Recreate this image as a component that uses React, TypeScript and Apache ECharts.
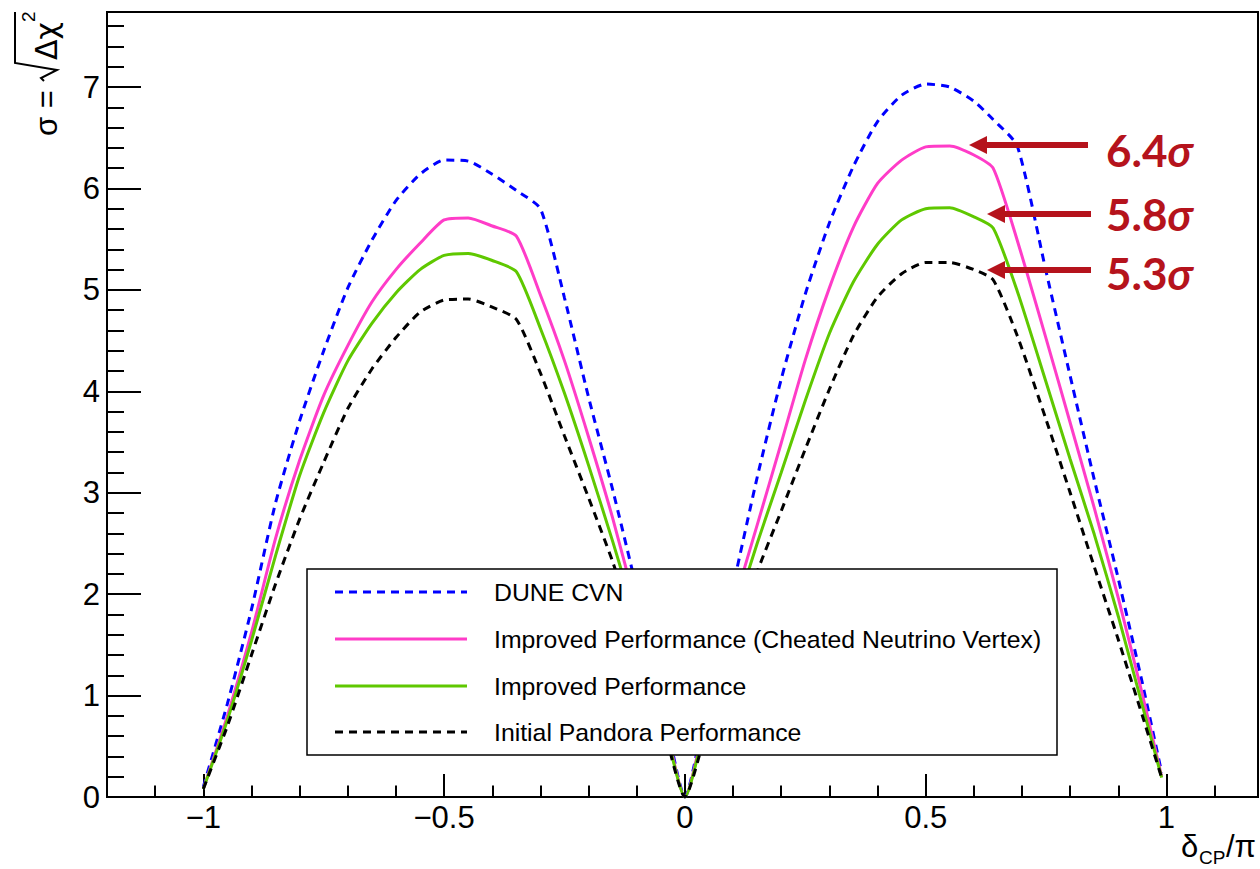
import React, { useEffect, useRef } from "react";
import * as echarts from "echarts";

// delta_CP / pi sample positions
const deltaCP = [
  -1, -0.95, -0.9, -0.85, -0.8, -0.75, -0.7, -0.65, -0.6, -0.55, -0.5, -0.45, -0.4, -0.35, -0.3, -0.25, -0.2, -0.15, -0.1, -0.05,
  0, 0.05, 0.1, 0.15, 0.2, 0.25, 0.3, 0.35, 0.4, 0.45, 0.5, 0.55, 0.6, 0.64, 0.69, 0.75, 0.8, 0.85, 0.9, 0.95, 0.99,
];

const duneCVN = [
  0.1, 0.92, 1.85, 2.9, 3.71, 4.4, 5.02, 5.49, 5.88, 6.14, 6.28, 6.27, 6.14, 5.98, 5.8, 4.92, 3.94, 3.03, 2.05, 1.02,
  0, 1.05, 2.08, 3.15, 4.12, 4.96, 5.66, 6.22, 6.66, 6.92, 7.03, 7.0, 6.86, 6.68, 6.42, 5.18, 4.15, 3.13, 2.15, 1.12, 0.24,
];

const improvedCheated = [
  0.08, 0.8, 1.62, 2.55, 3.32, 3.96, 4.45, 4.88, 5.2, 5.46, 5.69, 5.71, 5.63, 5.53, 4.95, 4.3, 3.55, 2.75, 1.85, 0.92,
  0, 0.93, 1.87, 2.68, 3.49, 4.31, 5.02, 5.62, 6.05, 6.28, 6.41, 6.42, 6.33, 6.2, 5.49, 4.52, 3.69, 2.85, 1.96, 1.01, 0.2,
];

const improved = [
  0.08, 0.76, 1.54, 2.38, 3.17, 3.79, 4.3, 4.67, 4.97, 5.2, 5.34, 5.36, 5.29, 5.18, 4.62, 3.98, 3.27, 2.52, 1.73, 0.87,
  0, 0.87, 1.73, 2.5, 3.2, 3.91, 4.57, 5.08, 5.45, 5.69, 5.8, 5.81, 5.72, 5.61, 4.99, 4.09, 3.33, 2.59, 1.78, 0.9, 0.19,
];

const initialPandora = [
  0.08, 0.7, 1.4, 2.1, 2.74, 3.3, 3.83, 4.22, 4.53, 4.78, 4.9, 4.91, 4.83, 4.71, 4.18, 3.56, 2.95, 2.32, 1.58, 0.8,
  0, 0.76, 1.52, 2.22, 2.82, 3.43, 4.02, 4.55, 4.93, 5.16, 5.27, 5.27, 5.2, 5.1, 4.55, 3.72, 3.0, 2.27, 1.55, 0.8, 0.19,
];

const seriesNames = [
  "DUNE CVN",
  "Improved Performance (Cheated Neutrino Vertex)",
  "Improved Performance",
  "Initial Pandora Performance",
];
const seriesColors = ["#0000ff", "#ff3cc8", "#5fc800", "#000000"];
const seriesDashed = [true, false, false, true];

const xMajorTicks = [-1, -0.5, 0, 0.5, 1];
const xTickLabels = ["\u22121", "\u22120.5", "0", "0.5", "1"];
const xMinorTicks = [-1.1, -0.9, -0.8, -0.7, -0.6, -0.4, -0.3, -0.2, -0.1, 0.1, 0.2, 0.3, 0.4, 0.6, 0.7, 0.8, 0.9, 1.1];

const yMajorTicks = [0, 1, 2, 3, 4, 5, 6, 7];
const yTickLabels = ["0", "1", "2", "3", "4", "5", "6", "7"];

const annotationLabels = ["6.4", "5.8", "5.3"];

const X_MIN = -1.2;
const X_MAX = 1.19;
const Y_MIN = 0;
const Y_MAX = 7.74;

export default function App() {
  const ref = useRef<HTMLDivElement>(null);

  useEffect(() => {
    if (!ref.current) return;
    const chart = echarts.init(ref.current, undefined, { renderer: "svg" });

    const yMinorTicks: number[] = [];
    for (let i = 1; i < 39; i++) {
      if (i % 5 !== 0) yMinorTicks.push(Math.round(i * 0.2 * 100) / 100);
    }

    const ys = [duneCVN, improvedCheated, improved, initialPandora];
    const series = ys.map((arr, k) => ({
      type: "line",
      name: seriesNames[k],
      data: deltaCP.map((x, i) => [x, arr[i]]),
      symbol: "none",
      silent: true,
      smooth: 0.2,
      xAxisIndex: 0,
      yAxisIndex: 0,
      z: 2 + k,
      lineStyle: {
        color: seriesColors[k],
        width: 3,
        type: seriesDashed[k] ? [8, 6] : "solid",
        cap: "butt",
      },
    }));

    const labelFont = "Liberation Sans, Arial, Helvetica, sans-serif";
    const red = "#b5131c";

    // legend
    const legX = 307, legY = 569, legW = 750, legH = 186;
    const rowY = [592, 639, 686, 732];
    const legendEls: any[] = [
      {
        type: "rect",
        z: 100,
        shape: { x: legX, y: legY, width: legW, height: legH },
        style: { fill: "#ffffff", stroke: "#000", lineWidth: 1.5 },
      },
    ];
    seriesNames.forEach((nm, k) => {
      legendEls.push({
        type: "line",
        z: 101,
        shape: { x1: 335, y1: rowY[k], x2: 467, y2: rowY[k] },
        style: {
          stroke: seriesColors[k],
          lineWidth: 3,
          lineDash: seriesDashed[k] ? [8, 6] : null,
        },
      });
      legendEls.push({
        type: "text",
        z: 101,
        x: 494,
        y: rowY[k],
        style: {
          text: nm,
          font: `24.8px ${labelFont}`,
          fill: "#000",
          textAlign: "left",
          textVerticalAlign: "middle",
        },
      });
    });

    // annotations
    const arrows = [
      { tip: 969, tail: 1088, y: 145, ty: 150 },
      { tip: 987, tail: 1091, y: 214, ty: 214 },
      { tip: 987, tail: 1091, y: 270, ty: 273 },
    ];
    const annEls: any[] = [];
    arrows.forEach((a, k) => {
      annEls.push({
        type: "line",
        z: 110,
        shape: { x1: a.tip + 14, y1: a.y, x2: a.tail, y2: a.y },
        style: { stroke: red, lineWidth: 6 },
      });
      annEls.push({
        type: "polygon",
        z: 110,
        shape: { points: [[a.tip, a.y], [a.tip + 18, a.y - 9], [a.tip + 18, a.y + 9]] },
        style: { fill: red },
      });
      annEls.push({
        type: "text",
        z: 110,
        x: 1106,
        y: a.ty,
        style: {
          text: `{n|${annotationLabels[k]}}{s|\u03c3}`,
          rich: {
            n: { font: "bold 44px Lato, sans-serif", fill: red },
            s: { font: "italic bold 44px Lato, sans-serif", fill: red },
          },
          textAlign: "left",
          textVerticalAlign: "middle",
        },
      });
    });

    // y axis title (rotated)
    const yTitle = {
      type: "group",
      x: 0,
      y: 136,
      rotation: Math.PI / 2,
      z: 120,
      children: [
        {
          type: "text",
          x: 0,
          y: 46,
          style: { text: "\u03c3 =", font: `31px ${labelFont}`, fill: "#000", textAlign: "left", textVerticalAlign: "middle" },
        },
        {
          type: "polyline",
          shape: { points: [[55, 44], [58, 41], [66, 57], [73, 15], [124, 15]] },
          style: { stroke: "#000", lineWidth: 2, fill: null },
        },
        {
          type: "text",
          x: 76,
          y: 46,
          style: { text: "\u0394\u03c7", font: `30px DejaVu Sans, sans-serif`, fill: "#000", textAlign: "left", textVerticalAlign: "middle" },
        },
        {
          type: "text",
          x: 114,
          y: 28,
          style: { text: "2", font: `19px ${labelFont}`, fill: "#000", textAlign: "left", textVerticalAlign: "middle" },
        },
      ],
    };

    // x axis title
    const xTitle = [
      {
        type: "text",
        z: 120,
        x: 1181,
        y: 846,
        style: { text: "\u03b4", font: `31px ${labelFont}`, fill: "#000", textAlign: "left", textVerticalAlign: "middle" },
      },
      {
        type: "text",
        z: 120,
        x: 1199,
        y: 857,
        style: { text: "CP", font: `19px ${labelFont}`, fill: "#000", textAlign: "left", textVerticalAlign: "middle" },
      },
      {
        type: "text",
        z: 120,
        x: 1226,
        y: 846,
        style: { text: "/\u03c0", font: `31px ${labelFont}`, fill: "#000", textAlign: "left", textVerticalAlign: "middle" },
      },
    ];

    const option: any = {
      animation: false,
      backgroundColor: "#ffffff",
      grid: {
        left: 107,
        right: 2,
        top: 12,
        bottom: 72,
        show: true,
        borderColor: "#000",
        borderWidth: 2,
        backgroundColor: "transparent",
      },
      xAxis: [
        {
          type: "value",
          min: X_MIN,
          max: X_MAX,
          position: "bottom",
          axisLine: { show: true, onZero: false, lineStyle: { color: "#000", width: 2 } },
          axisTick: { show: true, inside: true, length: 23, customValues: xMajorTicks, lineStyle: { color: "#000", width: 2 } },
          axisLabel: {
            show: true,
            customValues: xMajorTicks,
            margin: 5,
            color: "#000",
            fontSize: 31,
            fontFamily: labelFont,
            formatter: (v: number) => {
              const i = xMajorTicks.findIndex((t) => Math.abs(t - v) < 1e-6);
              return i >= 0 ? xTickLabels[i] : "";
            },
          },
          splitLine: { show: false },
        },
        {
          type: "value",
          min: X_MIN,
          max: X_MAX,
          position: "bottom",
          axisLine: { show: false, onZero: false },
          axisTick: { show: true, inside: true, length: 11.5, customValues: xMinorTicks, lineStyle: { color: "#000", width: 2 } },
          axisLabel: { show: false },
          splitLine: { show: false },
        },
      ],
      yAxis: [
        {
          type: "value",
          min: Y_MIN,
          max: Y_MAX,
          position: "left",
          axisLine: { show: true, onZero: false, lineStyle: { color: "#000", width: 2 } },
          axisTick: { show: true, inside: true, length: 34, customValues: yMajorTicks, lineStyle: { color: "#000", width: 2 } },
          axisLabel: {
            show: true,
            customValues: yMajorTicks,
            margin: 7,
            color: "#000",
            fontSize: 31,
            fontFamily: labelFont,
            formatter: (v: number) => {
              const i = yMajorTicks.findIndex((t) => Math.abs(t - v) < 1e-6);
              return i >= 0 ? yTickLabels[i] : "";
            },
          },
          splitLine: { show: false },
        },
        {
          type: "value",
          min: Y_MIN,
          max: Y_MAX,
          position: "left",
          axisLine: { show: false, onZero: false },
          axisTick: { show: true, inside: true, length: 17, customValues: yMinorTicks, lineStyle: { color: "#000", width: 2 } },
          axisLabel: { show: false },
          splitLine: { show: false },
        },
      ],
      series,
      graphic: [...legendEls, ...annEls, yTitle, ...xTitle],
    };

    chart.setOption(option);
    return () => chart.dispose();
  }, []);

  return (
    <div
      ref={ref}
      style={{ position: "fixed", left: 0, top: 0, width: 1260, height: 869, background: "#fff" }}
    />
  );
}
